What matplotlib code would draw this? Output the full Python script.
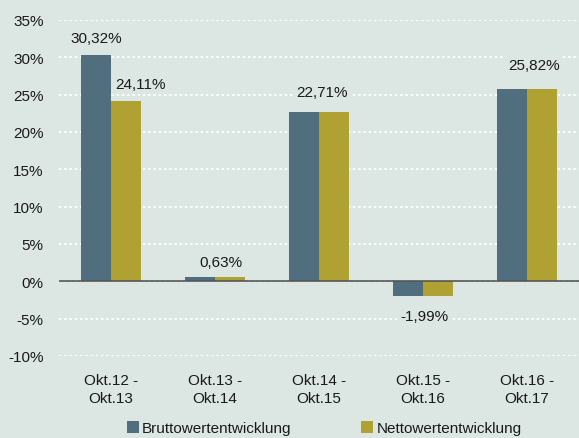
import matplotlib
matplotlib.use("Agg")
import matplotlib.pyplot as plt
import numpy as np
from matplotlib.ticker import FixedLocator

plt.rcParams['font.family'] = ['Liberation Sans', 'DejaVu Sans']

categories = ["Okt.12 -\nOkt.13", "Okt.13 -\nOkt.14", "Okt.14 -\nOkt.15", "Okt.15 -\nOkt.16", "Okt.16 -\nOkt.17"]
brutto = [30.32, 0.63, 22.71, -1.99, 25.82]
netto = [24.11, 0.63, 22.71, -1.99, 25.82]
label_texts = ["30,32%", "24,11%", "0,63%", "22,71%", "-1,99%", "25,82%"]
yticks = [-10, -5, 0, 5, 10, 15, 20, 25, 30, 35]
series_names = ["Bruttowertentwicklung", "Nettowertentwicklung"]

# label placement (x in category units, y in data units)
label_pos = [(-0.14, 32.6), (0.28, 26.4), (1.055, 2.55), (2.03, 25.3), (3.01, -4.65), (4.065, 29.0)]

bg = "#dce6e2"
c_b = "#516e7e"
c_n = "#afa132"
fs = 11

fig = plt.figure(figsize=(5.79, 4.39), dpi=100, facecolor=bg)
ax = fig.add_axes([59/579, 1-357/439, 1-59/579, (357-21)/439])
ax.set_facecolor(bg)

x = np.arange(len(categories))
w = 0.285
ax.bar(x - w/2, brutto, w, color=c_b, label=series_names[0], zorder=3)
ax.bar(x + w/2, netto, w, color=c_n, label=series_names[1], zorder=3)

ax.set_xlim(-0.5, 4.5)
ax.set_ylim(-10, 35)
ax.yaxis.set_major_locator(FixedLocator(yticks))
ax.set_yticklabels([f"{t}%" for t in yticks])
ax.set_xticks(x)
ax.set_xticklabels(categories, linespacing=1.4)
ax.tick_params(axis='both', length=0, labelsize=fs, colors="#1a1a1a")
ax.tick_params(axis='y', pad=11)
ax.tick_params(axis='x', pad=12)
for s in ax.spines.values():
    s.set_visible(False)
ax.grid(axis='y', color='white', linestyle=(0, (1.2, 1.5)), linewidth=1.4, zorder=1)
ax.axhline(0, color="#555555", linewidth=1.2, zorder=4)

for (px, py), t in zip(label_pos, label_texts):
    ax.text(px, py, t, ha='center', va='center', fontsize=fs, color="#1a1a1a", zorder=2,
            bbox=dict(facecolor=bg, edgecolor='none', pad=2))

leg = fig.legend(loc='center', bbox_to_anchor=(0.56, 0.022), ncol=2, frameon=False,
                 fontsize=fs, handlelength=0.8, handleheight=0.8, handletextpad=0.2,
                 columnspacing=4.55)
for t in leg.get_texts():
    t.set_color("#1a1a1a")

fig.savefig("out.png", dpi=100, facecolor=bg)
